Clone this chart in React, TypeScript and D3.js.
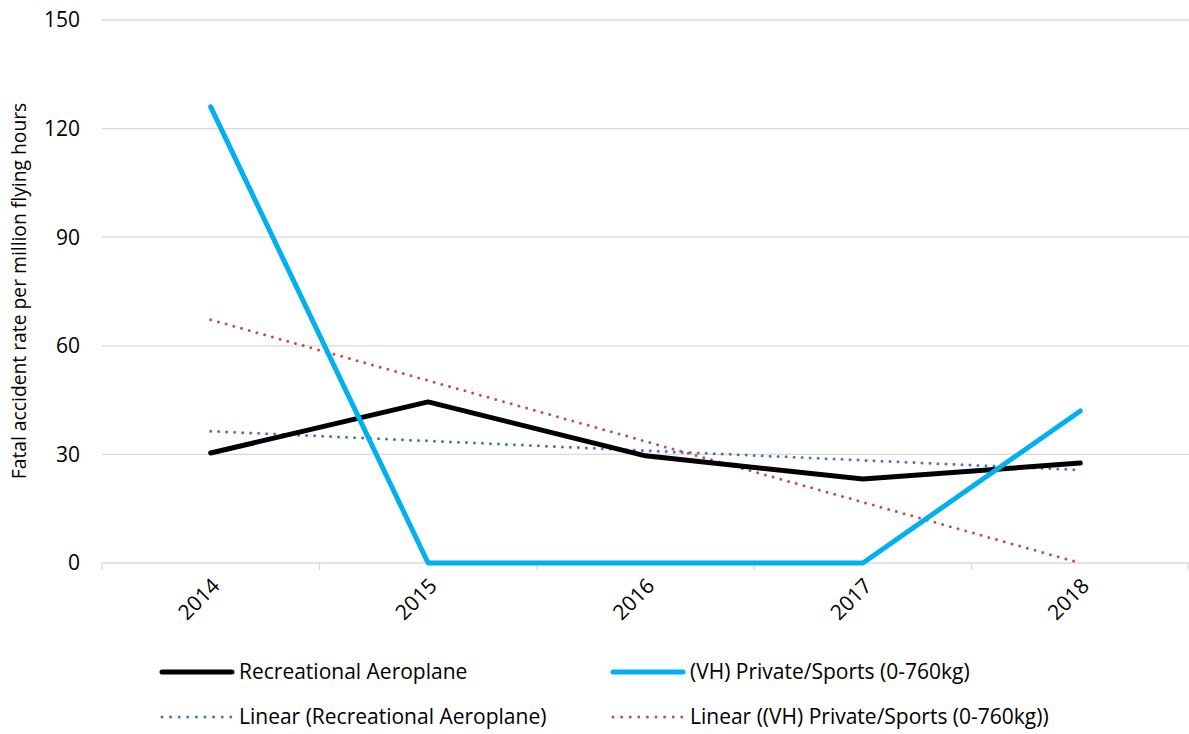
import React from "react";
import * as d3 from "d3";

const years = ["2014", "2015", "2016", "2017", "2018"];
const recreational = [30.4, 44.5, 29.6, 23.2, 27.6];
const privateSports = [126, 0, 0, 0, 42];
const trendRecreational = [36.4, 25.7];
const trendPrivate = [67.2, 0];
const yTicks = [0, 30, 60, 90, 120, 150];

const W = 1189;
const H = 734;
const FONT = "'Open Sans', sans-serif";

export default function App() {
  const left = 102;
  const right = 1189;
  const top = 20;
  const bottom = 563;

  const x = d3.scaleBand<string>().domain(years).range([left, right]).padding(0);
  const y = d3.scaleLinear().domain([0, 150]).range([bottom, top]);
  const cx = (yr: string) => (x(yr) as number) + x.bandwidth() / 2;

  const line = d3
    .line<[string, number]>()
    .x((d) => cx(d[0]))
    .y((d) => y(d[1]));

  const recPath = line(years.map((yr, i) => [yr, recreational[i]]));
  const privPath = line(years.map((yr, i) => [yr, privateSports[i]]));
  const first = years[0];
  const last = years[years.length - 1];
  const trendRecPath = line([
    [first, trendRecreational[0]],
    [last, trendRecreational[1]],
  ]);
  const trendPrivPath = line([
    [first, trendPrivate[0]],
    [last, trendPrivate[1]],
  ]);

  const boundaries = [...years.map((yr) => x(yr) as number), right - 1];

  const legend = [
    { label: "Recreational Aeroplane", color: "#000000", dotted: false, lx: 162, ly: 672 },
    { label: "(VH) Private/Sports (0-760kg)", color: "#00b0f0", dotted: false, lx: 613, ly: 672 },
    { label: "Linear (Recreational Aeroplane)", color: "#4472c4", dotted: true, lx: 162, ly: 717 },
    { label: "Linear ((VH) Private/Sports (0-760kg))", color: "#c0504d", dotted: true, lx: 613, ly: 717 },
  ];

  return (
    <svg
      width={W}
      height={H}
      style={{ position: "absolute", left: 0, top: 0, background: "#fff" }}
      fontFamily={FONT}
    >
      {yTicks.map((t) => (
        <g key={t}>
          <line x1={left} x2={right} y1={y(t)} y2={y(t)} stroke="#d9d9d9" strokeWidth={1.3} />
          <text x={80} y={y(t)} dy="0.35em" textAnchor="end" fontSize={21} fill="#000">
            {t}
          </text>
        </g>
      ))}
      {boundaries.map((b, i) => (
        <line key={i} x1={b} x2={b} y1={bottom} y2={bottom + 7} stroke="#d9d9d9" strokeWidth={1.3} />
      ))}
      {years.map((yr) => (
        <text
          key={yr}
          transform={`translate(${cx(yr) + 5},${bottom + 19}) rotate(-45)`}
          textAnchor="end"
          dy="0.35em"
          fontSize={21}
          fill="#000"
        >
          {yr}
        </text>
      ))}
      <text
        transform={`translate(26,291) rotate(-90)`}
        textAnchor="middle"
        fontSize={19.3}
        fill="#000"
      >
        Fatal accident rate per million flying hours
      </text>

      <path d={trendRecPath || ""} fill="none" stroke="#4472c4" strokeWidth={3} strokeDasharray="0 8" strokeLinecap="round" />
      <path d={trendPrivPath || ""} fill="none" stroke="#c0504d" strokeWidth={3} strokeDasharray="0 8" strokeLinecap="round" />
      <path d={recPath || ""} fill="none" stroke="#000" strokeWidth={5} strokeLinecap="round" strokeLinejoin="round" />
      <path d={privPath || ""} fill="none" stroke="#00b0f0" strokeWidth={5} strokeLinecap="round" strokeLinejoin="round" />

      {legend.map((l) => (
        <g key={l.label}>
          <line
            x1={l.lx}
            x2={l.lx + 70}
            y1={l.ly}
            y2={l.ly}
            stroke={l.color}
            strokeWidth={l.dotted ? 3 : 5}
            strokeLinecap="round"
            strokeDasharray={l.dotted ? "0 8.6" : undefined}
          />
          <text x={l.lx + 77} y={l.ly} dy="0.35em" fontSize={21} fill="#000">
            {l.label}
          </text>
        </g>
      ))}
    </svg>
  );
}
